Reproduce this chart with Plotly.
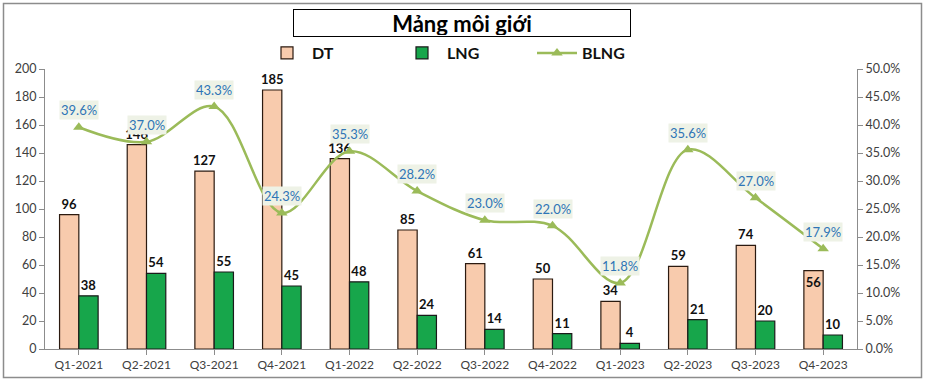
import plotly.graph_objects as go

categories = ["Q1-2021", "Q2-2021", "Q3-2021", "Q4-2021", "Q1-2022", "Q2-2022",
              "Q3-2022", "Q4-2022", "Q1-2023", "Q2-2023", "Q3-2023", "Q4-2023"]
dt = [96, 146, 127, 185, 136, 85, 61, 50, 34, 59, 74, 56]
lng = [38, 54, 55, 45, 48, 24, 14, 11, 4, 21, 20, 10]
blng = [0.396, 0.370, 0.433, 0.243, 0.353, 0.282, 0.230, 0.220, 0.118, 0.356, 0.270, 0.179]

FONT = "Lato"
W, H = 926, 383
L, R, T, B = 45, 69, 69, 34
pw, ph = W - L - R, H - T - B

def px_x(x):
    return (x - L) / pw

def px_y(y):
    return (H - B - y) / ph

dt_pos = ["inside" if v == 56 else "outside" for v in dt]

fig = go.Figure()
fig.add_trace(go.Bar(
    x=categories, y=dt, name="DT",
    marker=dict(color="#F8CBAD", line=dict(color="#2b1a10", width=1.2)),
    text=[str(v) for v in dt], textposition=dt_pos, insidetextanchor="end",
    textfont=dict(family=FONT, size=13, color="#111111", weight="bold"),
    constraintext="none", cliponaxis=False,
))
fig.add_trace(go.Bar(
    x=categories, y=lng, name="LNG",
    marker=dict(color="#17A64B", line=dict(color="#1a1a1a", width=1.2)),
    text=[str(v) for v in lng], textposition="outside",
    textfont=dict(family=FONT, size=13, color="#111111", weight="bold"),
    constraintext="none", cliponaxis=False,
))
fig.add_trace(go.Scatter(
    x=categories, y=blng, name="BLNG", yaxis="y2", mode="lines+markers",
    line=dict(color="#9BBB59", width=2.5, shape="spline", smoothing=1.0),
    marker=dict(symbol="triangle-up", size=10, color="#9BBB59"),
    cliponaxis=False,
))

annotations = []
for c, v in zip(categories, blng):
    annotations.append(dict(
        x=c, y=v, xref="x", yref="y2", text=f"{v*100:.1f}%",
        showarrow=False, yshift=17, bgcolor="#EEF2E6", borderpad=1,
        font=dict(family=FONT, size=13, color="#2E75B6"),
    ))

# Title box
annotations.append(dict(
    x=px_x(462), y=px_y(23), xref="paper", yref="paper",
    text="<b>Mảng môi giới</b>", showarrow=False,
    font=dict(family=FONT, size=22, color="#000000"),
    width=334, height=24, bordercolor="#000000", borderwidth=1, borderpad=1,
    bgcolor="#FFFFFF", xanchor="center", yanchor="middle",
))

shapes = [dict(
    type="rect", xref="paper", yref="paper",
    x0=px_x(3.5), x1=px_x(921.5), y0=px_y(377.5), y1=px_y(3.5),
    line=dict(color="#8C8C8C", width=1.5), fillcolor="rgba(0,0,0,0)", layer="below",
)]

fig.update_layout(
    width=W, height=H, margin=dict(l=L, r=R, t=T, b=B),
    paper_bgcolor="white", plot_bgcolor="white",
    barmode="group", bargap=0.43, bargroupgap=0,
    font=dict(family=FONT, size=12, color="#404040"),
    showlegend=True,
    legend=dict(orientation="h", x=px_x(262), y=px_y(53), xanchor="left", yanchor="middle",
                font=dict(family=FONT, size=16, color="#111111", weight="bold"),
                itemwidth=40, entrywidthmode="pixels", entrywidth=80,
                bgcolor="rgba(0,0,0,0)"),
    xaxis=dict(range=[-0.5, len(categories) - 0.5], autorange=False,
               showline=True, linecolor="#8C8C8C", linewidth=1, ticks="outside",
               tickcolor="#8C8C8C", ticklen=5, showgrid=False,
               tickfont=dict(family=FONT, size=12, color="#404040"), fixedrange=True),
    yaxis=dict(range=[0, 200], dtick=20, showline=True, linecolor="#8C8C8C", linewidth=1,
               ticks="outside", tickcolor="#8C8C8C", ticklen=5, showgrid=False,
               zeroline=False, tickfont=dict(family=FONT, size=12.5, color="#404040")),
    yaxis2=dict(range=[0, 0.5], dtick=0.05, tickformat=".1%", overlaying="y", side="right",
                showline=True, linecolor="#8C8C8C", linewidth=1, ticks="outside",
                tickcolor="#8C8C8C", ticklen=5, showgrid=False, zeroline=False,
                tickfont=dict(family=FONT, size=12.5, color="#404040")),
    annotations=annotations, shapes=shapes,
)

fig.write_html(
    "out.html",
    config={"displayModeBar": False},
    post_script="document.body.style.margin='0';document.body.style.overflow='hidden';",
)
